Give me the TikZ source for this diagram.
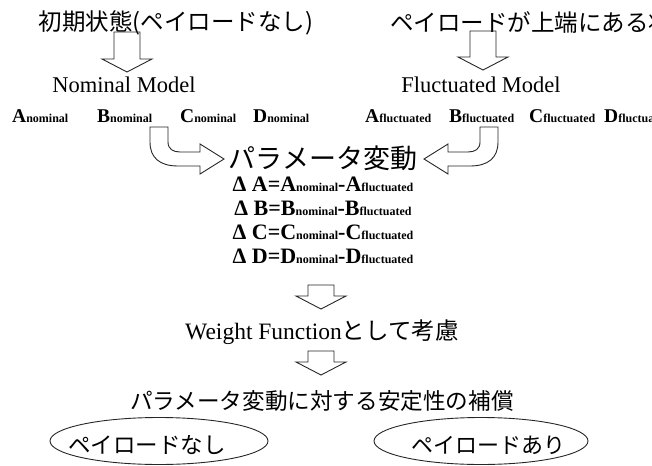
\documentclass[tikz,border=0pt]{standalone}
\usepackage{fontspec}
\setmainfont{Liberation Serif}
\newfontfamily\jp{Noto Sans CJK JP}
\usetikzlibrary{shapes.geometric}

% Buchstabe mit kleinem Index in derselben Zeile
\newcommand\Mtx[2]{#1{\fontsize{12}{12}\selectfont #2}}

\tikzset{
  titel/.style={font=\jp\fontsize{23.5}{28}\selectfont, inner sep=0pt},
  modell/.style={font=\fontsize{22.5}{26}\selectfont, inner sep=0pt, anchor=base},
  mtxzeile/.style={font=\fontsize{19.5}{22}\selectfont\bfseries, inner sep=0pt, anchor=base west},
  delta/.style={font=\fontsize{22}{24}\selectfont\bfseries, inner sep=0pt, anchor=base},
  pfeil/.style={draw=black!85, line width=0.9pt},
  blase/.style={ellipse, draw=black!85, line width=0.9pt, minimum height=47pt},
  pics/hohlpfeil/.style={code={
    \draw[pfeil] (-13,0) -- (13,0) -- (13,#1-13) -- (25,#1-13) -- (0,#1) -- (-25,#1-13) -- (-13,#1-13) -- cycle;
  }}
}

\begin{document}
\begin{tikzpicture}[x=1pt, y=-1pt]
		\useasboundingbox (0,0) rectangle (652,465);
		
		% Ausgangszustaende
		\node[titel] (ini) at (176,23) {初期状態(ペイロードなし)};
		\node[titel, anchor=west] (obs) at (390,23) {ペイロードが上端にある状態};
		
		\pic at (127,32) {hohlpfeil=40};
		\pic at (483,31) {hohlpfeil=39};
		
		% Modelle
		\node[modell] (nom) at (124,93) {Nominal Model};
		\node[modell] (fluk) at (481,93) {Fluctuated Model};
		
		\node[mtxzeile] (An) at (12,123) {\Mtx{A}{nominal}};
		\node[mtxzeile] (Bn) at (97,123) {\Mtx{B}{nominal}};
		\node[mtxzeile] (Cn) at (180,123) {\Mtx{C}{nominal}};
		\node[mtxzeile] (Dn) at (253,123) {\Mtx{D}{nominal}};
		\node[mtxzeile] (Af) at (365,123) {\Mtx{A}{fluctuated}};
		\node[mtxzeile] (Bf) at (449,123) {\Mtx{B}{fluctuated}};
		\node[mtxzeile] (Cf) at (529,123) {\Mtx{C}{fluctuated}};
		\node[mtxzeile] (Df) at (604,123) {\Mtx{D}{fluctuated}};
		
		% gebogene Pfeile zur Parameteraenderung
		\draw[pfeil] (150,127) -- (168,127) -- (168,142) .. controls (168,149) and (173,152) .. (180,152) -- (200,152) -- (200,144) -- (224,159) -- (200,174) -- (200,166) -- (178,166) .. controls (160,166) and (150,158) .. (150,142) -- cycle;
		\draw[pfeil] (498,127) -- (480,127) -- (480,142) .. controls (480,149) and (475,152) .. (468,152) -- (448,152) -- (448,144) -- (424,159) -- (448,174) -- (448,166) -- (470,166) .. controls (488,166) and (498,158) .. (498,142) -- cycle;
		
		\node[titel, font=\jp\fontsize{27}{30}\selectfont] (par) at (323,158) {パラメータ変動};
		
		% Differenzen
		\node[delta] (dA) at (323,191) {Δ A=\Mtx{A}{nominal}-\Mtx{A}{fluctuated}};
		\node[delta] (dB) at (323,215) {Δ B=\Mtx{B}{nominal}-\Mtx{B}{fluctuated}};
		\node[delta] (dC) at (323,239) {Δ C=\Mtx{C}{nominal}-\Mtx{C}{fluctuated}};
		\node[delta] (dD) at (323,263) {Δ D=\Mtx{D}{nominal}-\Mtx{D}{fluctuated}};
		
		\pic at (321,285) {hohlpfeil=24};
		\node[titel] (wf) at (322,332) {\rmfamily Weight Function{\jp として考慮}};
		
		\pic at (321,351) {hohlpfeil=24};
		\node[titel, font=\jp\fontsize{22.6}{26}\selectfont] (stab) at (322,401) {パラメータ変動に対する安定性の補償};
		
		% die beiden Faelle
		\node[blase, minimum width=218pt] (e1) at (159,441) {};
		\node[titel, font=\jp\fontsize{22.5}{26}\selectfont] (t1) at (147,445) {ペイロードなし};
		\node[blase, minimum width=214pt] (e2) at (481,441) {};
		\node[titel, font=\jp\fontsize{22}{26}\selectfont] (t2) at (488,445) {ペイロードあり};
		
	\end{tikzpicture}
\end{document}
